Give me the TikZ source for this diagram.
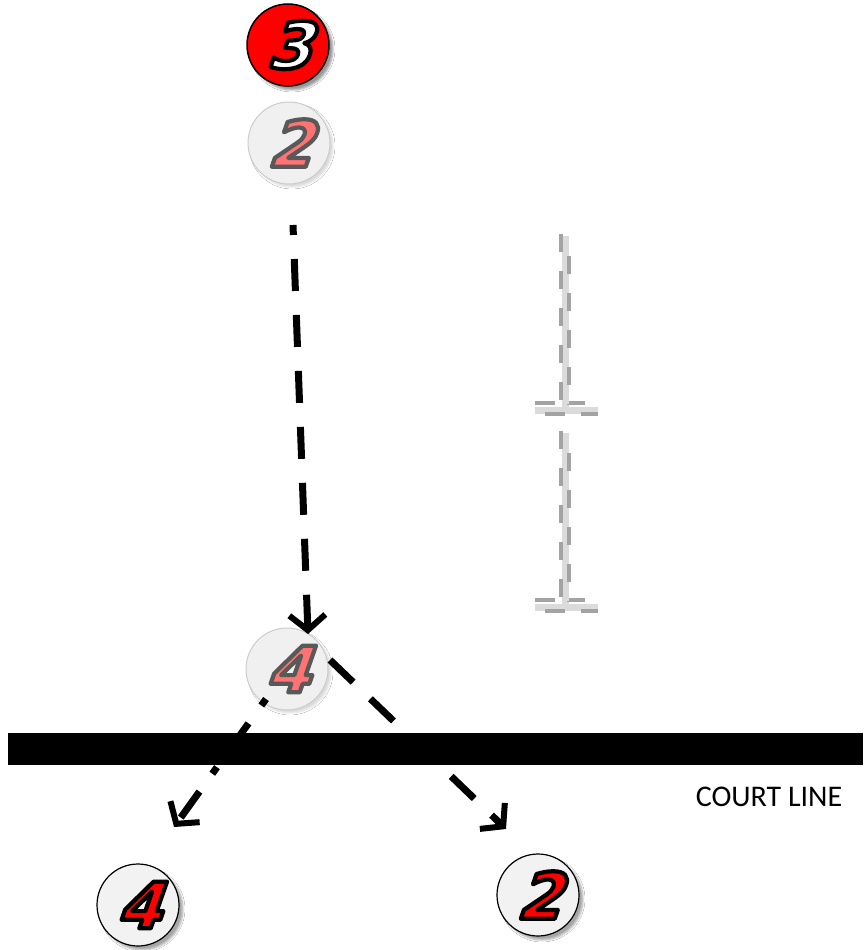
\documentclass[tikz,border=0pt]{standalone}
\usepackage{fontspec}
\setmainfont{Carlito}
\newfontfamily\numfont{DejaVu Sans Bold}[FakeSlant=0.35]
\usetikzlibrary{arrows.meta,shadows.blur}
\newcommand\strokedigit[2]{\special{pdf:literal 2 Tr 4.2 w 1 j #2 RG}#1\special{pdf:literal 0 Tr}}
\tikzset{
  numfnt/.style={font=\numfont\fontsize{64}{64}\selectfont, inner sep=0pt},
  token/.style={circle, minimum size=82pt, inner sep=0pt, numfnt},
  redtok/.style={token, fill=red, draw=black, line width=1.5pt, text=white,
    blur shadow={shadow xshift=4pt, shadow yshift=-4pt, shadow blur steps=6, shadow opacity=40}},
  fadetok/.style={token, fill=gray!12, draw=gray!40, line width=1pt, text=red!55!white,
    blur shadow={shadow xshift=3pt, shadow yshift=-3pt, shadow blur steps=6, shadow opacity=15}},
  plaintok/.style={token, fill=gray!10, draw=black, line width=1.2pt, text=red,
    blur shadow={shadow xshift=4pt, shadow yshift=-4pt, shadow blur steps=6, shadow opacity=35}},
  movearrow/.style={draw=black, line width=7pt, dash pattern=on 32pt off 24pt,
    -{Straight Barb[length=15pt,width=36pt,line width=6pt]}},
  teelight/.style={draw=gray!28, line width=7pt},
  teedark/.style={draw=gray!72, line width=4.5pt, dash pattern=on 18pt off 19pt},
  pics/tee/.style={code={
    \draw[teelight] (0,-172) -- (0,0);
    \draw[teelight] (-30,2) -- (33,2);
    \draw[teedark] (-4,-174) -- (-4,-3);
    \draw[teedark, dash phase=24pt] (4,-165) -- (4,-3);
    \draw[teedark, dash pattern=on 20pt off 14pt] (-30,-5) -- (-10,-5) (4,-5) -- (20,-5);
    \draw[teedark, dash pattern=on 20pt off 16pt] (-20,6) -- (33,6);
  }}
}
\begin{document}
\begin{tikzpicture}[x=1pt,y=-1pt]
\useasboundingbox[fill=white] (0,0) rectangle (863,950);

% court line
\fill[black] (8,733) rectangle (863,765);
\node[font=\fontsize{30}{34}\selectfont, inner sep=0pt] (cl) at (769,797) {COURT LINE};

% tees
\pic at (565,408) {tee};
\pic at (565,605) {tee};

% tokens
\node[redtok] (t3) at (288,45) {\strokedigit{3}{0 0 0}};
\node[fadetok] (t2) at (289,143) {\strokedigit{2}{0.35 0.35 0.35}};
\node[fadetok] (t4) at (287,669) {\strokedigit{4}{0.35 0.35 0.35}};
\node[plaintok] (b4) at (138,905) {\strokedigit{4}{0 0 0}};
\node[plaintok] (b2) at (538,895) {\strokedigit{2}{0 0 0}};

% arrows
\coordinate (s1) at (293,225);
\coordinate (e1) at (308,634);
\coordinate (s2) at (330,660);
\coordinate (e2) at (506,829);
\coordinate (s3) at (266,699);
\coordinate (e3) at (174,827);
\draw[movearrow, dash phase=22pt] (s1) -- (e1);
\draw[movearrow] (s2) -- (e2);
\draw[movearrow, dash pattern=on 8pt off 22pt on 32pt off 22pt] (s3) -- (e3);
\end{tikzpicture}
\end{document}
